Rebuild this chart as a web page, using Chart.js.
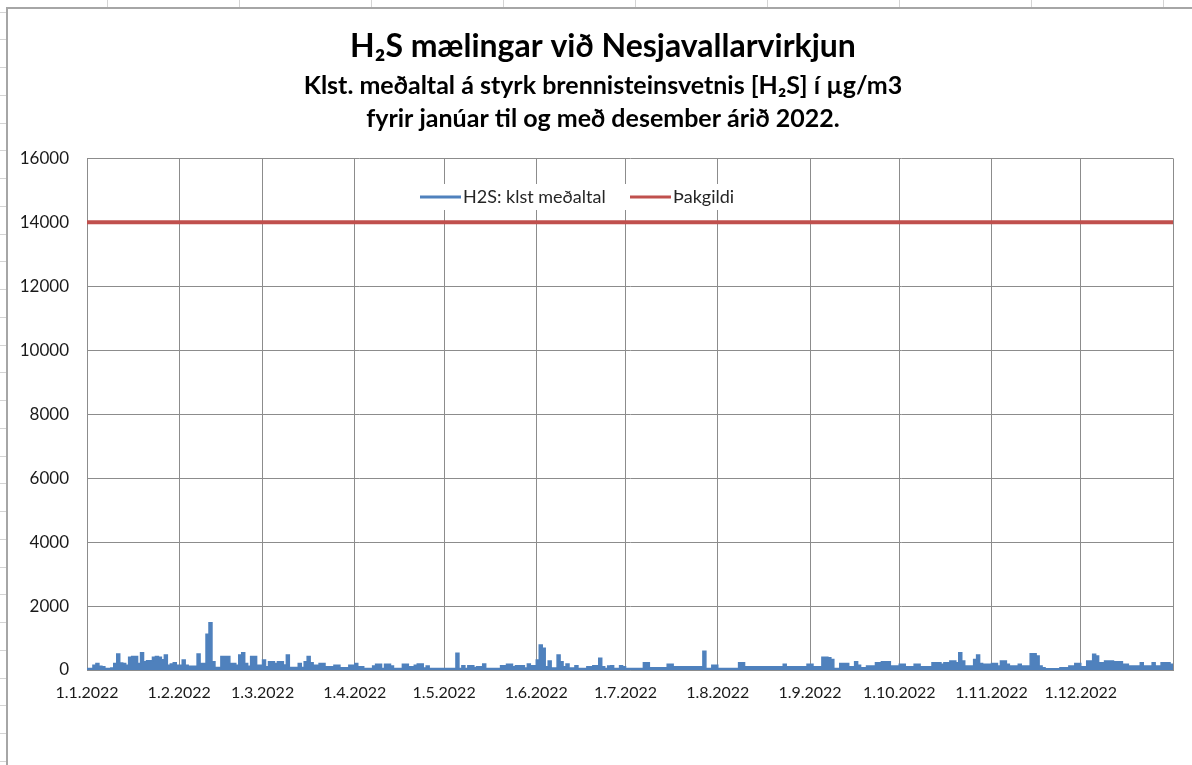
<!DOCTYPE html>
<html>
<head>
<meta charset="utf-8">
<script src="https://cdn.jsdelivr.net/npm/chart.js@4.4.0/dist/chart.umd.min.js"></script>
<style>
html,body{margin:0;padding:0;background:#fff;}
#wrap{position:relative;width:1192px;height:765px;overflow:hidden;background:#fff;}
#frame{position:absolute;left:6px;top:7px;width:1300px;height:900px;border-left:2px solid #a6a6a6;border-top:2px solid #a6a6a6;box-sizing:border-box;background:#fff;}
#c{position:absolute;left:0;top:0;}
.col{position:absolute;top:0;width:1px;height:7px;background:#d4d4d4;}
.row{position:absolute;left:0;height:1px;width:6px;background:#d4d4d4;}
</style>
</head>
<body>
<div id="wrap"><div id="frame"></div><canvas id="c" width="1192" height="765"></canvas></div>
<script>
// ---- data (daily maxima of hourly means, µg/m3) ----
const jan = [50,50,150,200,120,100,50,50,60,200,500,220,200,150,400,420,420,200,540,260,290,290,400,420,400,320,470,150,190,230,150];
const feb = [150,310,150,120,120,120,500,200,200,1115,1480,260,80,80,420,420,420,200,200,150,470,540,200,120,420,420,150,150];
const mar = [310,100,260,260,200,260,260,160,470,80,80,80,200,80,260,420,230,150,150,200,200,100,100,100,150,150,70,70,70,150,150];
const apr = [200,100,100,50,50,50,125,180,180,50,180,180,125,50,50,50,180,180,100,100,150,190,190,60,125,50,50,50,50,50];
const may = [50,50,50,50,520,50,135,50,135,135,80,100,100,190,50,50,50,50,50,135,135,180,180,100,135,135,135,60,190,135,135];
const jun = [310,780,680,100,280,60,60,470,260,100,190,60,60,135,50,50,50,100,100,135,135,365,100,50,125,135,50,50,135,100];
const jul = [50,50,50,50,50,50,230,230,70,70,70,70,70,70,180,180,100,100,100,100,100,100,100,100,100,100,590,50,50,150,150];
const aug = [50,50,50,50,50,50,50,230,230,100,100,100,100,100,100,100,100,100,100,100,100,100,180,100,100,100,100,100,100,100,180];
const sep = [180,100,100,100,400,400,380,330,50,50,200,200,200,100,100,260,150,70,70,125,125,125,230,230,260,260,260,125,125,125];
const oct = [180,180,100,100,100,180,180,100,100,100,100,230,230,230,180,230,230,280,280,230,540,280,125,125,125,330,470,200,180,180,180];
const nov = [200,200,125,280,280,180,125,125,125,180,125,125,125,510,510,440,125,70,40,40,40,40,40,70,70,70,125,125,200,200];
const dec = [100,100,280,280,490,440,230,230,280,280,280,260,260,260,180,180,125,125,125,125,230,125,125,125,230,125,125,230,230,230,180];

const monthTickDays = [0,31,59,90,120,151,181,212,243,273,304,334,365];
const monthTickLabels = ['1.1.2022','1.2.2022','1.3.2022','1.4.2022','1.5.2022','1.6.2022','1.7.2022','1.8.2022','1.9.2022','1.10.2022','1.11.2022','1.12.2022',''];
const yTickValues = [0,2000,4000,6000,8000,10000,12000,14000,16000];
const thresholdValue = 14000;
const seriesNames = ['H2S: klst meðaltal','Þakgildi'];
const titleText = 'H₂S mælingar við Nesjavallarvirkjun';
const subtitleLines = ['Klst. meðaltal á styrk brennisteinsvetnis [H₂S] í µg/m3','fyrir janúar til og með desember árið 2022.'];

// ---- build datasets ----
const h2sDaily = [].concat(jan,feb,mar,apr,may,jun,jul,aug,sep,oct,nov,dec);
const h2sPoints = h2sDaily.map((v,i)=>({x:i,y:v}));
h2sPoints.push({x:h2sDaily.length, y:h2sDaily[h2sDaily.length-1]});
const limitPoints = [
  {x:monthTickDays[0], y:thresholdValue},
  {x:monthTickDays[monthTickDays.length-1], y:thresholdValue}
];

// ---- spreadsheet background marks ----
const wrap = document.getElementById('wrap');
for (let x = 107; x < 1192; x += 132) { const d=document.createElement('div'); d.className='col'; d.style.left=x+'px'; wrap.insertBefore(d, wrap.firstChild); }
for (let y = 11.5; y < 765; y += 27.75) { const d=document.createElement('div'); d.className='row'; d.style.top=Math.round(y)+'px'; wrap.insertBefore(d, wrap.firstChild); }

const FONT = 'Lato, "Open Sans", sans-serif';
const gridColor = '#8c8c8c';

const insideLegend = {
  id: 'insideLegend',
  afterDraw(chart) {
    const ctx = chart.ctx;
    const ds = chart.data.datasets;
    const startX = [420, 630];
    const y = 197;
    ctx.save();
    ctx.fillStyle = '#ffffff';
    ctx.fillRect(412, 184, 336, 26);
    ctx.font = '18px ' + FONT;
    ctx.textBaseline = 'middle';
    ds.forEach((d, i) => {
      const x0 = startX[i];
      ctx.strokeStyle = d.borderColor;
      ctx.lineWidth = 3;
      ctx.beginPath(); ctx.moveTo(x0, y); ctx.lineTo(x0 + 41, y); ctx.stroke();
      ctx.fillStyle = '#262626';
      ctx.textAlign = 'left';
      ctx.fillText(d.label, x0 + 43, y);
    });
    ctx.restore();
  }
};

new Chart(document.getElementById('c'), {
  type: 'line',
  data: {
    datasets: [
      { label: seriesNames[0], data: h2sPoints, borderColor: '#4F81BD', backgroundColor: '#4F81BD',
        borderWidth: 1.5, fill: 'origin', stepped: true, pointRadius: 0, tension: 0 },
      { label: seriesNames[1], data: limitPoints, borderColor: '#C0504D', backgroundColor: '#C0504D',
        borderWidth: 4, fill: false, pointRadius: 0, tension: 0 }
    ]
  },
  options: {
    responsive: false,
    animation: false,
    layout: { padding: { left: 14, right: 0, top: 0, bottom: 0 } },
    plugins: {
      legend: { display: false },
      tooltip: { enabled: false },
      title: {
        display: true, text: titleText, color: '#000',
        font: { family: FONT, size: 32, weight: 'bold', lineHeight: 1.2 },
        padding: { top: 27, bottom: 0 }
      },
      subtitle: {
        display: true, text: subtitleLines, color: '#000',
        font: { family: FONT, size: 25, weight: 'bold', lineHeight: 1.32 },
        padding: { top: 4, bottom: 23 }
      }
    },
    scales: {
      x: {
        type: 'linear', min: monthTickDays[0], max: monthTickDays[monthTickDays.length-1],
        afterBuildTicks: (s) => { s.ticks = monthTickDays.map(v => ({ value: v })); },
        afterFit: (s) => { s.height = 95; },
        ticks: { autoSkip: false, maxRotation: 0, color: '#1a1a1a', padding: 13,
          font: { family: FONT, size: 16 },
          callback: (v, i) => monthTickLabels[i] },
        grid: { color: gridColor, lineWidth: 1, drawTicks: false },
        border: { color: gridColor, width: 1 }
      },
      y: {
        min: yTickValues[0], max: yTickValues[yTickValues.length-1],
        afterBuildTicks: (s) => { s.ticks = yTickValues.map(v => ({ value: v })); },
        afterFit: (s) => { s.width = 73; },
        ticks: { color: '#1a1a1a', padding: 18, font: { family: FONT, size: 17 },
          callback: (v) => String(v) },
        grid: { color: gridColor, lineWidth: 1, drawTicks: false },
        border: { color: gridColor, width: 1 }
      },
      yRight: {
        position: 'right', min: 0, max: 1,
        afterFit: (s) => { s.width = 19; },
        ticks: { display: false },
        grid: { display: false, drawTicks: false },
        border: { display: false }
      }
    }
  },
  plugins: [insideLegend]
});
</script>
</body>
</html>
